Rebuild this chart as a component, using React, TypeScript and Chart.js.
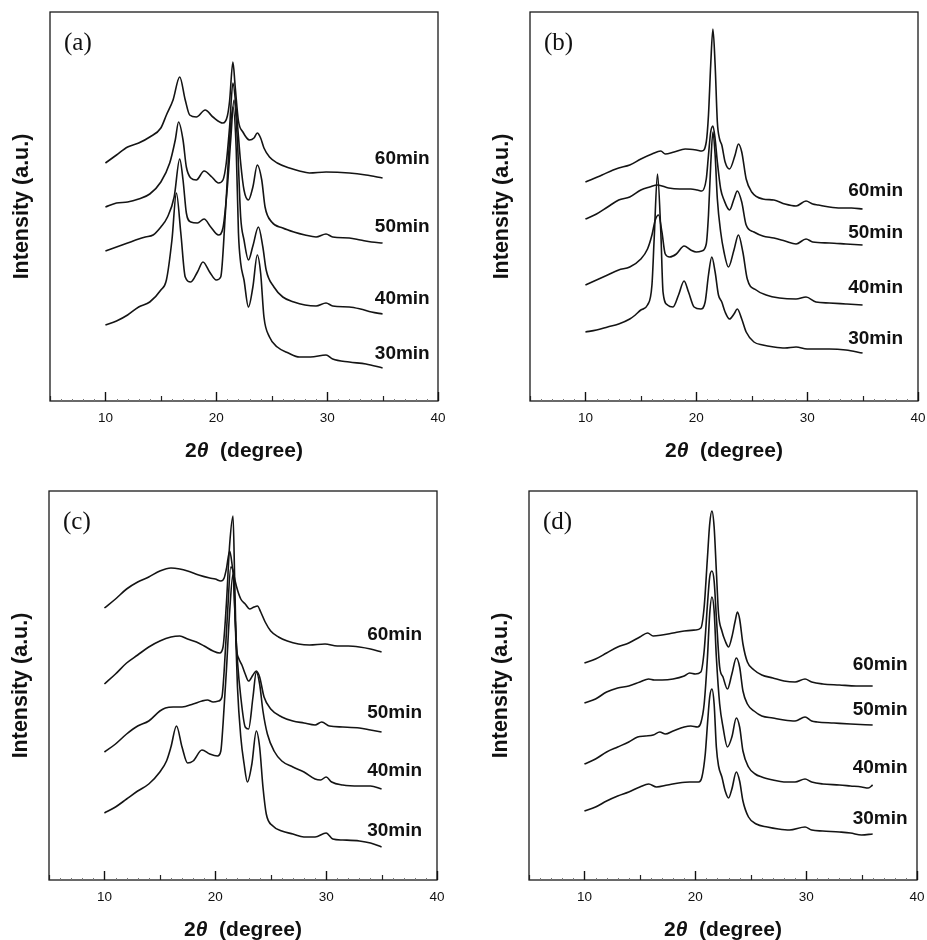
import React, { useEffect, useRef } from 'react';
import { Chart, registerables } from 'chart.js';

Chart.register(...registerables);

// ---------- data ----------
const SERIES_NAMES = ['30min', '40min', '50min', '60min'];
const X_TICKS = [10, 20, 30, 40];
const X_MIN = 5;
const X_MAX = 40;
const Y_MAX = 389;

// Panel (a)
const A30 = [[10,76],[11,80],[12,86],[13,94],[14,99],[15,111],[15.5,121],[16.0,161],[16.4,208],[16.8,168],[17.2,124],[17.7,119],[18.3,129],[18.8,139],[19.4,129],[20.0,121],[20.4,124],[20.8,184],[21.2,261],[21.5,294],[21.8,251],[22.0,168],[22.2,138],[22.5,121],[22.9,94],[23.3,114],[23.7,146],[24.0,128],[24.3,84],[24.8,64],[25.5,54],[26.5,48],[27.5,44],[28.5,44],[29.9,46],[30.5,42],[32,39],[33.5,37],[35,33]];
const A40 = [[10,150],[11,154],[12,158],[13,162],[13.6,164],[14.3,166],[15.0,174],[15.6,184],[16.2,204],[16.7,242],[17.0,221],[17.3,188],[17.7,179],[18.3,178],[18.9,182],[19.5,174],[20.2,166],[20.6,173],[21.0,214],[21.3,261],[21.6,301],[21.9,261],[22.2,184],[22.5,161],[22.9,141],[23.3,155],[23.8,174],[24.2,154],[24.5,131],[25.2,114],[26.0,104],[27.0,99],[28.0,96],[29.0,95],[29.9,98],[30.5,95],[32,94],[33,92],[34,89],[35,87]];
const A50 = [[10,194],[11,198],[12,199],[13,202],[14,207],[15,219],[15.8,238],[16.3,261],[16.6,279],[17.0,261],[17.3,234],[17.7,223],[18.2,221],[18.9,230],[19.6,224],[20.2,218],[20.6,221],[20.9,238],[21.2,274],[21.5,318],[21.8,291],[22.2,238],[22.5,211],[22.9,201],[23.3,214],[23.7,236],[24.1,221],[24.4,194],[25.0,179],[26.0,173],[27.0,169],[28.0,166],[29.0,164],[29.9,167],[30.5,164],[32,163],[33,161],[34,159],[35,158]];
const A60 = [[10,238],[11,246],[12,254],[13,258],[14,264],[15,273],[15.5,286],[16.1,301],[16.7,324],[17.2,301],[17.6,286],[18.2,284],[19.0,291],[19.7,284],[20.6,278],[21.0,285],[21.2,300],[21.5,339],[21.7,315],[22.0,280],[22.4,269],[23.0,261],[23.4,263],[23.7,268],[24.0,263],[24.3,253],[24.8,244],[25.5,238],[26.6,233],[27.5,230],[28.4,228],[29.9,229],[32,228],[33.5,226],[35,223]];

// Panel (b)
const B30 = [[10,69],[11,71],[12,74],[13,77],[14,82],[14.5,86],[15,91],[15.6,96],[16.0,116],[16.2,162],[16.5,227],[16.8,169],[17.0,109],[17.4,96],[17.9,94],[18.4,106],[18.9,120],[19.3,109],[19.8,94],[20.4,92],[20.8,99],[21.1,126],[21.4,144],[21.7,129],[22.0,106],[22.3,99],[22.6,89],[23.0,82],[23.4,87],[23.7,92],[24.1,82],[24.5,69],[25.2,59],[26,56],[27,54],[28,53],[29,54],[30,52],[32,52],[33.5,51],[35,48]];
const B40 = [[10,116],[11,121],[12,126],[13,131],[14,134],[15,142],[15.6,152],[16.0,166],[16.3,181],[16.6,186],[16.9,169],[17.2,147],[17.6,144],[18.2,147],[18.9,155],[19.5,151],[20.0,149],[20.5,150],[20.9,157],[21.1,186],[21.3,236],[21.5,269],[21.7,246],[21.9,202],[22.2,169],[22.5,149],[22.9,134],[23.4,151],[23.8,166],[24.2,149],[24.6,122],[25.4,111],[26.3,106],[27.5,103],[29.0,102],[29.9,104],[30.8,99],[32,98],[33.5,97],[35,96]];
const B50 = [[10,182],[11,187],[12,194],[13,201],[14,204],[15,211],[15.8,214],[16.5,216],[17.5,213],[18.5,212],[19.5,212],[20.1,211],[20.5,210],[20.9,222],[21.1,246],[21.3,269],[21.5,275],[21.7,262],[21.9,239],[22.2,212],[22.5,201],[23.0,191],[23.4,202],[23.7,210],[24.1,199],[24.5,176],[25.2,169],[26,165],[27,163],[28,160],[29,157],[29.9,162],[30.5,159],[32,158],[33.5,157],[35,156]];
const B60 = [[10,219],[11.5,226],[12.5,231],[13,233],[14,236],[15,242],[16,247],[16.8,250],[17.2,247],[18,249],[19,252],[20,251],[20.5,250],[20.9,259],[21.1,286],[21.3,336],[21.5,372],[21.7,336],[21.9,279],[22.1,262],[22.3,256],[22.6,239],[23.0,232],[23.5,246],[23.8,257],[24.1,249],[24.5,222],[25.0,209],[26,202],[27,201],[28,197],[29,195],[29.9,200],[30.5,197],[31,196],[32,194],[33,193],[34,193],[35,192]];

// Panel (c)
const C30 = [[10,67],[11,73],[12,81],[13,89],[14,96],[15,108],[15.6,119],[16.0,133],[16.5,154],[17.0,133],[17.5,117],[18.0,119],[18.8,130],[19.5,126],[20.2,124],[20.5,129],[20.7,156],[21.0,209],[21.3,269],[21.6,306],[21.8,259],[22.0,193],[22.3,143],[22.6,116],[22.9,98],[23.3,116],[23.7,149],[24.0,133],[24.3,93],[24.6,66],[25.2,54],[26,49],[27,46],[28,43],[29,43],[30,47],[30.6,41],[31.5,40],[33,39],[34,37],[35,33]];
const C40 = [[10,128],[11,136],[12,146],[13,154],[14,159],[15,169],[15.5,172],[16.2,173],[17.0,173],[18.0,176],[18.8,179],[19.3,180],[19.8,178],[20.3,179],[20.6,183],[20.8,209],[21.1,266],[21.4,313],[21.6,309],[21.8,259],[22.0,219],[22.3,183],[22.7,153],[23.0,151],[23.4,183],[23.7,208],[24.0,196],[24.3,169],[24.7,146],[25.3,129],[26.0,119],[27.0,113],[28.0,108],[29.0,101],[29.5,100],[30.0,103],[30.5,98],[31.5,95],[33,94],[34,94],[35,91]];
const C50 = [[10,196],[11,206],[12,217],[13,225],[14,233],[15,239],[16,243],[16.8,244],[17.5,241],[18.3,238],[19.0,234],[19.8,229],[20.4,227],[20.7,233],[21.0,276],[21.3,336],[21.6,364],[21.75,300],[21.9,235],[22.1,222],[22.4,215],[22.7,206],[23.0,199],[23.4,205],[23.7,209],[24.0,203],[24.4,183],[25.0,171],[26,163],[27,159],[28,157],[29,155],[29.6,158],[30.3,154],[31.5,153],[33,152],[34,150],[35,148]];
const C60 = [[10,272],[11,281],[12,291],[13,298],[14,303],[15,309],[16,312],[16.8,311],[17.5,309],[18.5,305],[19.5,302],[20.0,301],[20.5,299],[20.8,302],[21.0,311],[21.3,329],[21.6,309],[21.9,294],[22.3,281],[22.7,276],[23.1,271],[23.5,273],[23.8,274],[24.1,268],[24.5,258],[25.0,249],[25.7,243],[26.5,239],[27.5,236],[28.5,235],[29.9,236],[31,234],[32,234],[33,233],[34,231],[35,228]];

// Panel (d)
const D30 = [[10,69],[11,73],[12,79],[13,84],[14,88],[15,93],[15.8,96],[16.5,93],[17.5,95],[18.5,97],[19.5,98],[20.3,98],[20.6,103],[20.9,126],[21.1,156],[21.3,183],[21.5,191],[21.7,176],[21.9,133],[22.1,114],[22.4,103],[22.7,89],[23.0,82],[23.3,91],[23.7,108],[24.0,99],[24.3,79],[24.8,63],[25.5,56],[26.5,53],[27.5,51],[28.5,50],[29.9,53],[30.5,50],[31.5,49],[33,48],[34,47],[35,45],[36,46]];
const D40 = [[10,116],[11,121],[12,128],[13,133],[14,138],[14.8,143],[15.5,144],[16.2,145],[16.8,148],[17.3,146],[18,149],[19,153],[19.6,154],[20.2,153],[20.5,157],[20.8,176],[21.1,223],[21.3,266],[21.5,283],[21.7,269],[21.9,223],[22.2,176],[22.5,153],[22.9,133],[23.3,143],[23.7,162],[24.0,153],[24.3,129],[24.8,113],[25.4,106],[26,103],[27,100],[28,98],[29,98],[29.9,101],[30.5,98],[31.5,96],[33,95],[34,94],[35,93],[35.6,92],[36,95]];
const D50 = [[10,177],[11,181],[12,188],[13,192],[14,194],[15,198],[15.8,201],[16.3,200],[17,200],[18,201],[19,204],[19.5,207],[20,206],[20.5,208],[20.8,229],[21.1,276],[21.3,303],[21.5,309],[21.7,299],[21.9,263],[22.2,213],[22.5,203],[22.9,191],[23.3,206],[23.7,222],[24.0,213],[24.3,189],[24.7,176],[25.3,169],[26,164],[27,162],[28,160],[29,159],[29.9,163],[30.5,159],[31,158],[32.5,157],[34,156],[36,155]];
const D60 = [[10,217],[11,221],[12,227],[13,233],[14,237],[15,243],[15.7,247],[16.2,244],[17,245],[18,247],[19,249],[20,250],[20.5,252],[20.8,273],[21.1,323],[21.3,356],[21.5,369],[21.7,353],[21.9,309],[22.1,266],[22.4,249],[22.7,239],[23.0,233],[23.3,243],[23.6,259],[23.8,268],[24.0,261],[24.3,236],[24.7,218],[25.3,210],[26,205],[27,202],[28,199],[29,198],[29.9,201],[30.5,198],[31.5,196],[33,195],[34.5,194],[36,194]];

// Series label anchors (data units: 2θ, a.u.)
const A_LABEL_X = 34.3;
const A_LABEL_Y = [47, 102, 174, 242];
const B_LABEL_X = 33.7;
const B_LABEL_Y = [62, 113, 168, 210];
const C_LABEL_X = 33.7;
const C_LABEL_Y = [49, 109, 167, 245];
const D_LABEL_X = 34.2;
const D_LABEL_Y = [61, 112, 170, 215];

// ---------- layout ----------
const SANS = '"Liberation Sans", Arial, Helvetica, sans-serif';
const SERIF = '"Liberation Serif", "Times New Roman", serif';

const PANELS = [
  { letter: '(a)', left: 0, top: 0, width: 460, height: 470, area: { l: 50, t: 12, r: 438, b: 401 }, series: [A30, A40, A50, A60], labelX: A_LABEL_X, labelY: A_LABEL_Y },
  { letter: '(b)', left: 460, top: 0, width: 467, height: 470, area: { l: 70, t: 12, r: 458, b: 401 }, series: [B30, B40, B50, B60], labelX: B_LABEL_X, labelY: B_LABEL_Y },
  { letter: '(c)', left: 0, top: 470, width: 460, height: 470, area: { l: 49, t: 21, r: 437, b: 410 }, series: [C30, C40, C50, C60], labelX: C_LABEL_X, labelY: C_LABEL_Y },
  { letter: '(d)', left: 460, top: 470, width: 467, height: 470, area: { l: 69, t: 21, r: 457, b: 410 }, series: [D30, D40, D50, D60], labelX: D_LABEL_X, labelY: D_LABEL_Y },
];

type PanelT = typeof PANELS[number];

function makeDecor(p: PanelT) {
  return {
    id: 'decor',
    afterDraw(chart: any) {
      const ctx = chart.ctx as CanvasRenderingContext2D;
      const ca = chart.chartArea;
      const xs = chart.scales.x;
      const ys = chart.scales.y;
      ctx.save();
      // frame
      ctx.strokeStyle = '#1a1a1a';
      ctx.lineWidth = 1.3;
      ctx.strokeRect(ca.left, ca.top, ca.right - ca.left, ca.bottom - ca.top);
      // inward ticks on the bottom axis
      for (let v = X_MIN; v <= X_MAX; v++) {
        const px = Math.round(xs.getPixelForValue(v)) + 0.5;
        let len = 2;
        ctx.lineWidth = 1;
        ctx.strokeStyle = '#777';
        if (v % 10 === 0) { len = 9; ctx.lineWidth = 1.4; ctx.strokeStyle = '#111'; }
        else if (v % 5 === 0) { len = 5; ctx.lineWidth = 1.2; ctx.strokeStyle = '#222'; }
        ctx.beginPath();
        ctx.moveTo(px, ca.bottom);
        ctx.lineTo(px, ca.bottom - len);
        ctx.stroke();
      }
      // panel letter
      ctx.fillStyle = '#111';
      ctx.font = `25px ${SERIF}`;
      ctx.textAlign = 'left';
      ctx.textBaseline = 'middle';
      ctx.fillText(p.letter, ca.left + 14, ca.top + 31);
      // series labels
      ctx.font = `bold 19px ${SANS}`;
      SERIES_NAMES.forEach((name, i) => {
        ctx.fillText(name, xs.getPixelForValue(p.labelX), ys.getPixelForValue(p.labelY[i]));
      });
      // y title
      ctx.save();
      ctx.translate(ca.left - 28, (ca.top + ca.bottom) / 2);
      ctx.rotate(-Math.PI / 2);
      ctx.font = `bold 21.5px ${SANS}`;
      ctx.textAlign = 'center';
      ctx.textBaseline = 'middle';
      ctx.fillText('Intensity (a.u.)', 0, 0);
      ctx.restore();
      // x title: 2θ (degree) with italic theta
      const parts = [
        { t: '2', f: `bold 21px ${SANS}` },
        { t: '\u03B8', f: `italic bold 21px ${SANS}` },
        { t: '  (degree)', f: `bold 21px ${SANS}` },
      ];
      let total = 0;
      const widths = parts.map((q) => { ctx.font = q.f; const w = ctx.measureText(q.t).width; total += w; return w; });
      let x = (ca.left + ca.right) / 2 - total / 2;
      const y = ca.bottom + 50.5;
      ctx.textAlign = 'left';
      ctx.textBaseline = 'middle';
      parts.forEach((q, i) => { ctx.font = q.f; ctx.fillText(q.t, x, y); x += widths[i]; });
      ctx.restore();
    },
  };
}

function PanelChart({ p }: { p: PanelT }) {
  const ref = useRef<HTMLCanvasElement | null>(null);
  useEffect(() => {
    if (!ref.current) return;
    const chart = new Chart(ref.current, {
      type: 'line',
      data: {
        datasets: p.series.map((s, i) => ({
          label: SERIES_NAMES[i],
          data: s.map(([x, y]) => ({ x, y })),
          borderColor: '#141414',
          borderWidth: 1.6,
          pointRadius: 0,
          fill: false,
          cubicInterpolationMode: 'monotone' as const,
        })),
      },
      options: {
        animation: false,
        responsive: false,
        devicePixelRatio: 1,
        layout: { padding: { left: p.area.l, top: p.area.t, right: p.width - p.area.r, bottom: 0 } },
        plugins: { legend: { display: false }, tooltip: { enabled: false } },
        scales: {
          x: {
            type: 'linear',
            min: X_MIN,
            max: X_MAX,
            afterBuildTicks: (s: any) => { s.ticks = X_TICKS.map((v) => ({ value: v })); },
            afterFit: (s: any) => {
              s.height = p.height - p.area.b;
              s.paddingLeft = 0;
              s.paddingRight = 0;
            },
            grid: { display: false, drawTicks: false },
            border: { display: false },
            ticks: { padding: 9, color: '#111', maxRotation: 0, autoSkip: false, font: { family: SANS, size: 13.5 } },
          },
          y: { display: false, min: 0, max: Y_MAX },
        },
      },
      plugins: [makeDecor(p)],
    } as any);
    return () => chart.destroy();
  }, [p]);
  return (
    <canvas
      ref={ref}
      width={p.width}
      height={p.height}
      style={{ position: 'absolute', left: p.left, top: p.top, width: p.width, height: p.height, display: 'block' }}
    />
  );
}

export default function App() {
  return (
    <div style={{ position: 'absolute', left: 0, top: 0, width: 927, height: 940, background: '#fff', overflow: 'hidden' }}>
      {PANELS.map((p) => (
        <PanelChart key={p.letter} p={p} />
      ))}
    </div>
  );
}
